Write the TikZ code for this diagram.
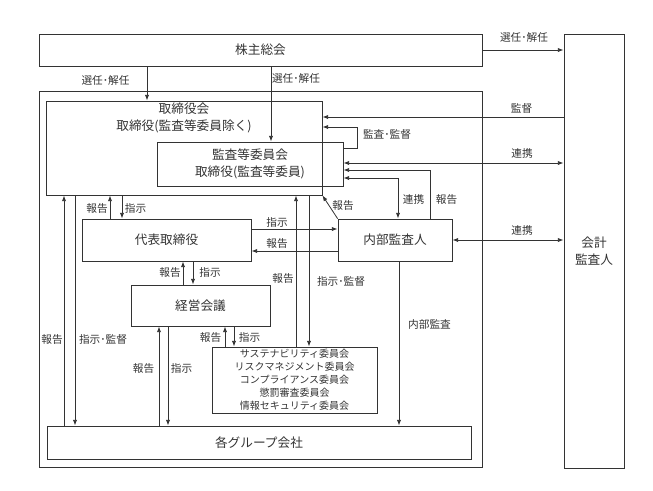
\documentclass[tikz,border=0pt]{standalone}
\usepackage{fontspec}
\setmainfont{Noto Sans CJK JP}
\usetikzlibrary{arrows.meta}

\begin{document}
\begin{tikzpicture}[x=0.75pt,y=-0.75pt,line width=0.6pt,color=black!80,>={Latex[length=1.5mm,width=1.1mm]},
  box/.style={draw,rectangle,inner sep=0pt,align=center,font=\fontsize{9.5}{12.5}\selectfont},
  txt/.style={inner sep=0pt,align=center,font=\fontsize{9.5}{12.5}\selectfont},
  lbl/.style={inner sep=0pt,font=\fontsize{8}{9}\selectfont}]
  \useasboundingbox (0,0) rectangle (653,490);
  % boxes
  \node[box,minimum width=332.25pt,minimum height=24pt] (agm) at (260.5,50) {株主総会};
  \node[box,minimum width=332.25pt,minimum height=282pt] (frame) at (260.5,279) {};
  \node[box,minimum width=207pt,minimum height=70.5pt] (board) at (184,148) {};
  \node[txt] (boardtxt) at (board.north |- 0,118) {取締役会\\取締役(監査等委員除く)};
  \node[box,minimum width=139.5pt,minimum height=33pt] (ac) at (250,164) {監査等委員会\\取締役(監査等委員)};
  \node[box,minimum width=126.75pt,minimum height=31.5pt] (ceo) at (166.5,240) {代表取締役};
  \node[box,minimum width=104.25pt,minimum height=30.75pt] (mgmt) at (200.5,305.5) {経営会議};
  \node[box,minimum width=85.5pt,minimum height=31.5pt] (ia) at (395,240) {内部監査人};
  \node[box,minimum width=123.75pt,minimum height=49.5pt,font=\fontsize{7.5}{9.8}\selectfont] (comm) at (294.5,380)
    {サステナビリティ委員会\\リスクマネジメント委員会\\コンプライアンス委員会\\懲罰審査委員会\\情報セキュリティ委員会};
  \node[box,minimum width=318pt,minimum height=24.75pt] (grp) at (259,442.5) {各グループ会社};
  \node[box,minimum width=45pt,minimum height=325.5pt] (auditor) at (594,251) {会計\\監査人};
  % 株主総会から
  \draw[->] (agm.south -| 147,0) -- (board.north -| 147,0);
  \node[lbl] (l-sel1) at (105.5,80) {選任･解任};
  \draw[->] (agm.south -| 271,0) -- (ac.north -| 271,0);
  \node[lbl] (l-sel2) at (296,78) {選任･解任};
  \draw[->] (agm.east) -- (auditor.west |- agm.east);
  \node[lbl] (l-sel3) at (524,37) {選任･解任};
  % 会計監査人
  \draw[->] (auditor.west |- 0,117) -- (board.east |- 0,117);
  \node[lbl] (l-sup) at (521.5,108) {監督};
  \draw[<->] (ac.east |- 0,163) -- (auditor.west |- 0,163);
  \node[lbl] (l-coop1) at (522,153) {連携};
  \draw[<->] (ia.east) -- (auditor.west |- ia.east);
  \node[lbl] (l-coop2) at (522,230) {連携};
  % 監査等委員会
  \draw[->] (ac.east |- 0,148) -- ++(14,0) |- (board.east |- 0,127);
  \node[lbl] (l-audit) at (387,134) {監査･監督};
  \draw[->] (ia.north -| 430,0) |- (ac.east |- 0,170);
  \node[lbl] (l-rep1) at (446.5,199) {報告};
  \draw[<->] (ac.east |- 0,178) -| (ia.north -| 398,0);
  \node[lbl] (l-coop3) at (413.5,199) {連携};
  % 内部監査人
  \draw[->] (ia.north west) -- (board.south east);
  \node[lbl] (l-rep2) at (343,205) {報告};
  \draw[->] (ceo.east |- 0,229) -- (ia.west |- 0,229);
  \node[lbl] (l-ins1) at (277,222) {指示};
  \draw[->] (ia.west |- 0,251) -- (ceo.east |- 0,251);
  \node[lbl] (l-rep3) at (277,243) {報告};
  \draw[->] (ia.south -| 399,0) -- (grp.north -| 399,0);
  \node[lbl] (l-ia) at (429.5,324) {内部監査};
  % 取締役会と代表取締役
  \draw[->] (ceo.north -| 110,0) -- (board.south -| 110,0);
  \node[lbl] (l-rep4) at (97,208) {報告};
  \draw[->] (board.south -| 122,0) -- (ceo.north -| 122,0);
  \node[lbl] (l-ins2) at (135.5,208) {指示};
  % 代表取締役と経営会議
  \draw[->] (mgmt.north -| 183,0) -- (ceo.south -| 183,0);
  \node[lbl] (l-rep5) at (170,272) {報告};
  \draw[->] (ceo.south -| 193,0) -- (mgmt.north -| 193,0);
  \node[lbl] (l-ins3) at (210,272) {指示};
  % 委員会
  \draw[->] (comm.north -| 296,0) -- (board.south -| 296,0);
  \node[lbl] (l-rep6) at (283,278) {報告};
  \draw[->] (board.south -| 309,0) -- (comm.north -| 309,0);
  \node[lbl] (l-dir1) at (341,281) {指示･監督};
  \draw[->] (comm.north -| 225,0) -- (mgmt.south -| 225,0);
  \node[lbl] (l-rep7) at (210.5,337) {報告};
  \draw[->] (mgmt.south -| 234,0) -- (comm.north -| 234,0);
  \node[lbl] (l-ins4) at (249.5,337) {指示};
  % 各グループ会社
  \draw[->] (grp.north -| 159,0) -- (mgmt.south -| 159,0);
  \node[lbl] (l-rep8) at (143.5,368) {報告};
  \draw[->] (mgmt.south -| 168,0) -- (grp.north -| 168,0);
  \node[lbl] (l-ins5) at (181.5,368) {指示};
  \draw[->] (grp.north -| 64,0) -- (board.south -| 64,0);
  \node[lbl] (l-rep9) at (52,339) {報告};
  \draw[->] (board.south -| 75,0) -- (grp.north -| 75,0);
  \node[lbl] (l-dir2) at (103,339) {指示･監督};
\end{tikzpicture}
\end{document}
